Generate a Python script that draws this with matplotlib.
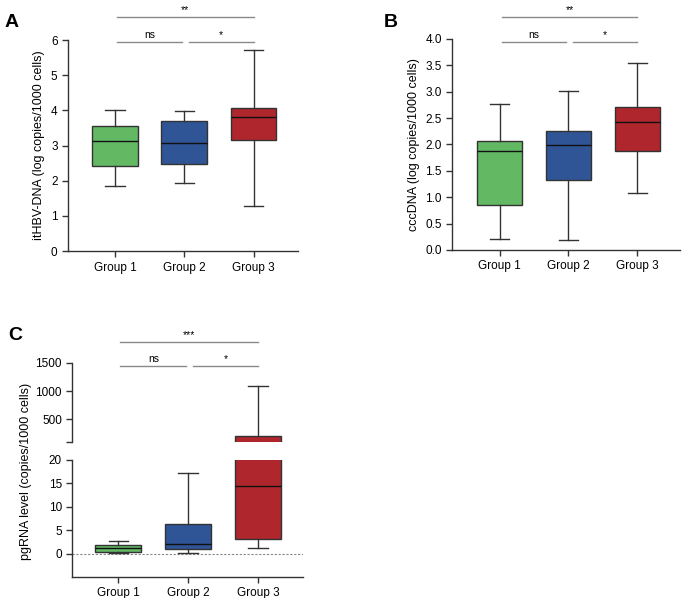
import matplotlib.pyplot as plt

plt.rcParams['font.family'] = ['Liberation Sans', 'DejaVu Sans']
plt.rcParams['font.size'] = 8

groups = ['Group 1', 'Group 2', 'Group 3']
colors = ['#63b864', '#2f5597', '#b0262d']

# box statistics: low whisker, q1, median, q3, high whisker
a_low = [1.85, 1.95, 1.27]
a_q1 = [2.42, 2.47, 3.15]
a_med = [3.13, 3.07, 3.82]
a_q3 = [3.57, 3.70, 4.08]
a_high = [4.02, 3.97, 5.72]

b_low = [0.21, 0.19, 1.08]
b_q1 = [0.86, 1.32, 1.87]
b_med = [1.88, 1.98, 2.42]
b_q3 = [2.07, 2.26, 2.71]
b_high = [2.77, 3.02, 3.55]

c_low = [0.15, 0.2, 1.1]
c_q1 = [0.4, 0.9, 3.2]
c_med = [1.1, 2.0, 14.5]
c_q3 = [1.9, 6.4, 210]
c_high = [2.7, 17.1, 1100]

EDGE = '#333333'


def make_stats(low, q1, med, q3, high):
    return [dict(whislo=l, q1=a, med=m, q3=b, whishi=h, fliers=[])
            for l, a, m, b, h in zip(low, q1, med, q3, high)]


def draw_boxes(ax, stats):
    bp = ax.bxp(stats, positions=[1, 2, 3], widths=0.66, patch_artist=True,
                showfliers=False,
                boxprops=dict(edgecolor=EDGE, linewidth=1.0),
                medianprops=dict(color='#111111', linewidth=1.0),
                whiskerprops=dict(color=EDGE, linewidth=1.0),
                capprops=dict(color=EDGE, linewidth=1.0),
                capwidths=0.28)
    for patch, c in zip(bp['boxes'], colors):
        patch.set_facecolor(c)
    return bp


def style(ax):
    for s in ['top', 'right']:
        ax.spines[s].set_visible(False)
    for s in ['left', 'bottom']:
        ax.spines[s].set_color(EDGE)
        ax.spines[s].set_linewidth(1.0)
    ax.tick_params(direction='out', length=4, width=1.0, color=EDGE, labelsize=8.5)


def bracket(ax, x1, x2, y, text):
    ax.plot([x1, x2], [y, y], color='#8a8a8a', lw=1.0, clip_on=False)
    ax.annotate(text, xy=((x1 + x2) / 2, y), xytext=(0, 1.5), textcoords='offset points',
                ha='center', va='bottom', fontsize=7.5, annotation_clip=False)


fig = plt.figure(figsize=(6.82, 5.98), dpi=100)

# ── Panel A ──
axA = fig.add_axes([0.0997, 0.580, 0.337, 0.353])
draw_boxes(axA, make_stats(a_low, a_q1, a_med, a_q3, a_high))
style(axA)
axA.set_ylim(0, 6)
axA.set_xlim(0.32, 3.64)
axA.set_xticks([1, 2, 3], groups)
axA.set_yticks(range(0, 7))
axA.set_ylabel('itHBV-DNA (log copies/1000 cells)', fontsize=9)
bracket(axA, 1.03, 1.97, 5.95, 'ns')
bracket(axA, 2.07, 3.0, 5.95, '*')
bracket(axA, 1.03, 3.0, 6.65, '**')
fig.text(0.006, 0.955, 'A', fontsize=14, fontweight='bold')

# ── Panel B ──
axB = fig.add_axes([0.663, 0.582, 0.334, 0.353])
draw_boxes(axB, make_stats(b_low, b_q1, b_med, b_q3, b_high))
style(axB)
axB.set_ylim(0, 4)
axB.set_xlim(0.31, 3.62)
axB.set_xticks([1, 2, 3], groups)
axB.set_yticks([0, 0.5, 1, 1.5, 2, 2.5, 3, 3.5, 4])
axB.set_yticklabels(['0.0', '0.5', '1.0', '1.5', '2.0', '2.5', '3.0', '3.5', '4.0'])
axB.set_ylabel('cccDNA (log copies/1000 cells)', fontsize=9)
bracket(axB, 1.03, 1.97, 3.94, 'ns')
bracket(axB, 2.07, 3.0, 3.94, '*')
bracket(axB, 1.03, 3.0, 4.42, '**')
fig.text(0.563, 0.955, 'B', fontsize=14, fontweight='bold')

# ── Panel C (broken y axis) ──
c_stats = make_stats(c_low, c_q1, c_med, c_q3, c_high)
axC_top = fig.add_axes([0.106, 0.261, 0.338, 0.132])
axC_bot = fig.add_axes([0.106, 0.035, 0.338, 0.196])
for ax in (axC_top, axC_bot):
    draw_boxes(ax, c_stats)
    style(ax)
    ax.set_xlim(0.34, 3.64)

axC_top.set_ylim(100, 1500)
axC_top.set_yticks([100, 500, 1000, 1500], ['', '500', '1000', '1500'])
axC_top.spines['bottom'].set_visible(False)
axC_top.set_xticks([])

axC_bot.set_ylim(-5, 20)
axC_bot.set_yticks([0, 5, 10, 15, 20])
axC_bot.set_xticks([1, 2, 3], groups)
axC_bot.axhline(0, color='#888888', lw=0.8, ls=(0, (2, 1.5)), zorder=0)

fig.text(0.038, 0.212, 'pgRNA level (copies/1000 cells)', rotation=90,
         ha='center', va='center', fontsize=9)
bracket(axC_top, 1.03, 1.97, 1450, 'ns')
bracket(axC_top, 2.07, 3.0, 1450, '*')
bracket(axC_top, 1.03, 3.0, 1870, '***')
fig.text(0.012, 0.432, 'C', fontsize=14, fontweight='bold')

fig.savefig('out.png', dpi=100)
